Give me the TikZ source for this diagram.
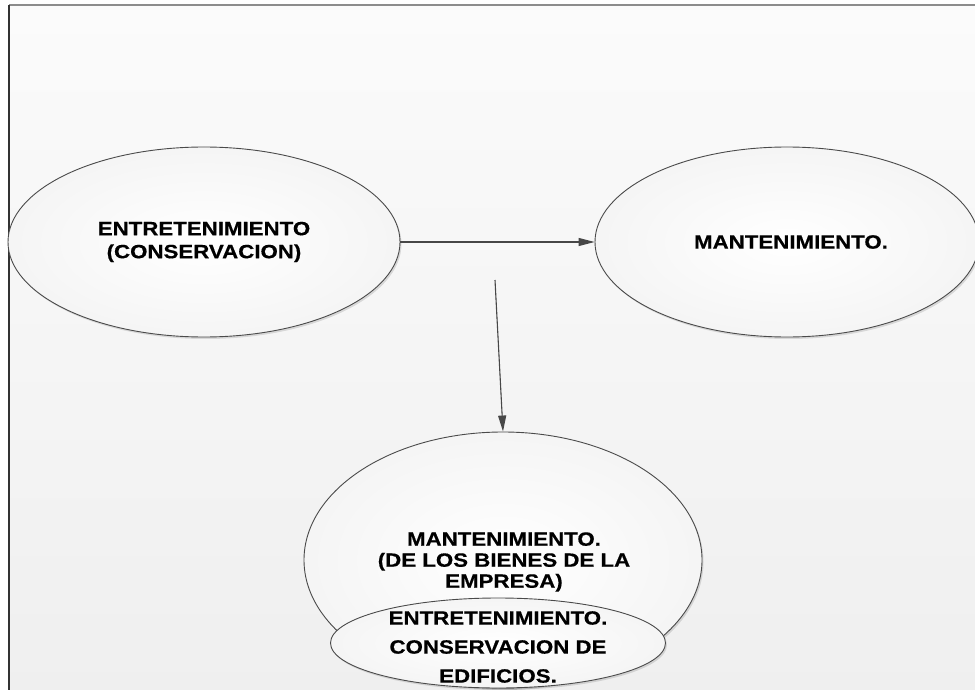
\documentclass[tikz,border=0pt]{standalone}
\usepackage{fontspec}
\newfontfamily\lblfont{Liberation Sans}[FakeStretch=1.16,FakeBold=0.5]
\usetikzlibrary{shapes.geometric,arrows.meta,shadows}
\definecolor{edgegray}{HTML}{4A4A4A}
\definecolor{arrowgray}{HTML}{474747}
\definecolor{pagetop}{HTML}{FBFBFB}
\definecolor{pagebottom}{HTML}{EFEFEF}
\begin{document}
\begin{tikzpicture}[x=1pt,y=-1pt,
  bubble/.style={ellipse, draw=edgegray, line width=0.9pt, inner sep=0pt,
    shading=radial, inner color=white, outer color=black!4,
    drop shadow={shadow xshift=1.5pt, shadow yshift=-2pt, opacity=0.12, fill=black}},
  caption/.style={align=center, inner sep=0pt, text=black,
    font=\lblfont\bfseries\fontsize{19.2}{#1}\selectfont},
  caption/.default=23,
  flow/.style={draw=arrowgray, line width=1.1pt,
    -{Triangle[length=16pt,width=8pt]}, fill=arrowgray}]
\useasboundingbox (0,0) rectangle (975,690);
\clip (0,0) rectangle (975,690);
\fill[white] (0,0) rectangle (975,690);
% page background and its frame
\shade[top color=pagetop, bottom color=pagebottom] (9,5) rectangle (985,700);
\draw[black!45, line width=1.6pt] (9,5) -- (985,5);
\draw[black!80, line width=1.2pt] (9,5) -- (9,700);

% ellipses
\node[bubble, minimum width=392pt, minimum height=190pt] (cons) at (204,242)
  {};
\node[caption] (consTxt) at (cons.center) {ENTRETENIMIENTO\\(CONSERVACION)};
\node[bubble, minimum width=384pt, minimum height=190pt] (mant) at (787,242)
  {};
\node[caption] (mantTxt) at (791,242) {MANTENIMIENTO.};
\node[bubble, minimum width=398pt, minimum height=256pt] (bienes) at (503,560)
  {};
\node[caption=21] (bienesTxt) at (504,562)
  {MANTENIMIENTO.\\(DE LOS BIENES DE LA\\EMPRESA)};
\node[bubble, minimum width=335pt, minimum height=90pt] (edif) at (498,643)
  {};
\node[caption=29] (edifTxt) at (498,647)
  {ENTRETENIMIENTO.\\CONSERVACION DE\\EDIFICIOS.};

% connectors
\coordinate (split) at (495,280);
\draw[flow] (cons.east) -- (mant.west);
\draw[flow] (split) -- (bienes.north);
\end{tikzpicture}
\end{document}
